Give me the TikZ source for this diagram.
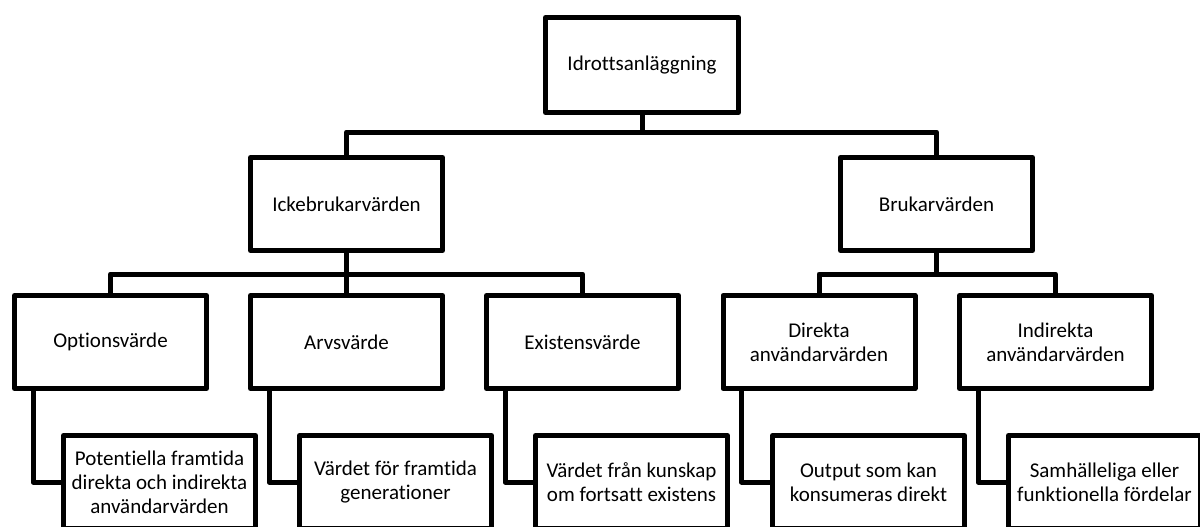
\documentclass[tikz,border=0pt]{standalone}
\usepackage{fontspec}
\setmainfont{Carlito}[Ligatures=NoCommon]
\begin{document}
\begin{tikzpicture}[x=1pt,y=-1pt,
  box/.style={draw=black, line width=5pt, line join=round, fill=white,
    minimum width=192pt, minimum height=93pt, inner sep=2pt, align=center,
    font=\fontsize{21}{24}\selectfont},
  topbox/.style={box, minimum width=193pt, minimum height=95pt},
  conn/.style={draw=black, line width=5pt, line join=round}]
\useasboundingbox (0,0) rectangle (1200,527);
\clip (0,0) rectangle (1200,527);
\coordinate (bus1) at (0,132);
\coordinate (bus2) at (0,274);
\node[topbox] (top) at (642,65) {Idrottsanläggning};
\node[box] (ick) at (346.5,204) {Ickebrukarvärden};
\node[box] (bruk) at (936.5,204) {Brukarvärden};
\node[box] (opt) at (110.5,342) {Optionsvärde};
\node[box] (arv) at (346.5,342) {Arvsvärde};
\node[box] (exi) at (582.5,342) {Existensvärde};
\node[box] (dir) at (819,342) {Direkta\\användarvärden};
\node[box] (ind) at (1055.5,342) {Indirekta\\användarvärden};
\node[box] (pot) at (159.5,482) {Potentiella framtida\\direkta och indirekta\\användarvärden};
\node[box] (gen) at (395.5,482) {Värdet för framtida\\generationer};
\node[box] (kun) at (631.5,482) {Värdet från kunskap\\om fortsatt existens};
\node[box] (out) at (868.5,482) {Output som kan\\konsumeras direkt};
\node[box] (sam) at (1104.5,482) {Samhälleliga eller\\funktionella fördelar};
\draw[conn] (top.south) -- (top.south |- bus1) -| (ick.north);
\draw[conn] (top.south |- bus1) -| (bruk.north);
\draw[conn] (ick.south) -- (ick.south |- bus2) -| (opt.north);
\draw[conn] (ick.south |- bus2) -| (exi.north);
\draw[conn] (ick.south |- bus2) -- (arv.north);
\draw[conn] (bruk.south) -- (bruk.south |- bus2) -| (dir.north);
\draw[conn] (bruk.south |- bus2) -| (ind.north);
\draw[conn] ([xshift=21pt]opt.south west) |- (pot.west);
\draw[conn] ([xshift=21pt]arv.south west) |- (gen.west);
\draw[conn] ([xshift=21pt]exi.south west) |- (kun.west);
\draw[conn] ([xshift=21pt]dir.south west) |- (out.west);
\draw[conn] ([xshift=21pt]ind.south west) |- (sam.west);
\end{tikzpicture}
\end{document}
